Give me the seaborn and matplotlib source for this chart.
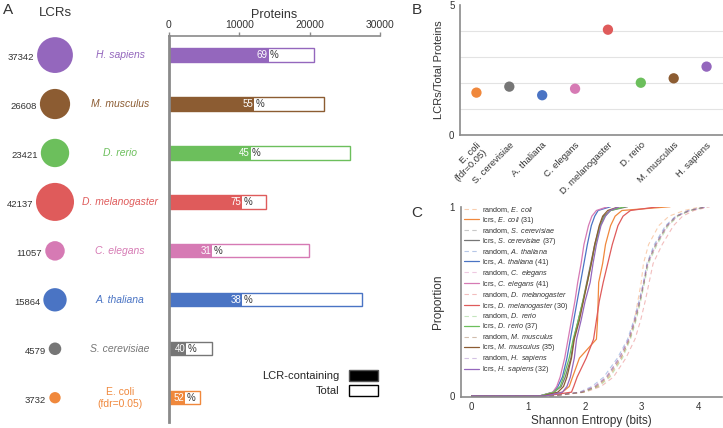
"""
LCR overview figure: LCR counts, LCR-containing proteins, LCR density
and Shannon entropy distributions per species.
"""

import numpy as np
import pandas as pd
import matplotlib
matplotlib.use("Agg")
import matplotlib.pyplot as plt
from matplotlib.patches import Patch
import seaborn as sns

# ---- data (top to bottom in panel A) ----
SPECIES = ["H. sapiens", "M. musculus", "D. rerio", "D. melanogaster",
           "C. elegans", "A. thaliana", "S. cerevisiae", "E. coli"]
COLORS = ["#9467bd", "#8c5c32", "#6cbf5c", "#df5b5b",
          "#d67ab4", "#4a74c4", "#767676", "#f0883c"]
LCR_COUNTS = [37342, 26608, 23421, 42137, 11057, 15864, 4579, 3732]
TOTAL_PROTEINS = [20650, 22000, 25750, 13850, 19870, 27500, 6070, 4400]
LCR_PROTEINS = [14150, 12100, 11600, 10350, 6130, 10420, 2400, 2280]
LCR_PCT = [69, 55, 45, 75, 31, 38, 40, 52]

# ---- panel B (left to right) ----
B_SPECIES = ["E. coli", "S. cerevisiae", "A. thaliana", "C. elegans",
             "D. melanogaster", "D. rerio", "M. musculus", "H. sapiens"]
B_LABELS = ["E. coli\n(fdr=0.05)", "S. cerevisiae", "A. thaliana", "C. elegans",
            "D. melanogaster", "D. rerio", "M. musculus", "H. sapiens"]
B_RATIO = [1.63, 1.86, 1.53, 1.78, 4.05, 2.01, 2.18, 2.63]

# ---- panel C: entropy (bits) at cumulative proportion knots ----
PROPS = [0, 0, 0.02, 0.05, 0.1, 0.2, 0.3, 0.4, 0.5, 0.6, 0.7, 0.8, 0.9, 0.95, 0.98, 1.0]
C_ORDER = ["E. coli", "S. cerevisiae", "A. thaliana", "C. elegans",
           "D. melanogaster", "D. rerio", "M. musculus", "H. sapiens"]
C_N = [31, 37, 41, 41, 30, 37, 35, 32]
LCR_ENT = {
    "E. coli":         [0, 1.25, 1.60, 1.72, 1.78, 1.90, 2.20, 2.22, 2.23, 2.24, 2.31, 2.36, 2.45, 2.53, 2.65, 3.50],
    "S. cerevisiae":   [0, 1.20, 1.45, 1.58, 1.65, 1.75, 1.80, 1.88, 1.96, 2.03, 2.10, 2.17, 2.26, 2.33, 2.45, 2.75],
    "A. thaliana":     [0, 1.20, 1.44, 1.52, 1.60, 1.68, 1.74, 1.80, 1.86, 1.92, 1.98, 2.04, 2.11, 2.17, 2.23, 2.45],
    "C. elegans":      [0, 1.20, 1.43, 1.50, 1.56, 1.64, 1.70, 1.76, 1.82, 1.87, 1.93, 1.98, 2.06, 2.12, 2.20, 2.40],
    "D. melanogaster": [0, 1.30, 1.76, 1.80, 1.86, 2.02, 2.15, 2.20, 2.25, 2.32, 2.40, 2.48, 2.58, 2.67, 2.80, 3.30],
    "D. rerio":        [0, 1.20, 1.45, 1.56, 1.62, 1.72, 1.79, 1.88, 1.96, 2.04, 2.11, 2.18, 2.27, 2.35, 2.45, 2.70],
    "M. musculus":     [0, 1.25, 1.52, 1.62, 1.68, 1.76, 1.81, 1.90, 1.97, 2.04, 2.11, 2.17, 2.25, 2.31, 2.40, 2.60],
    "H. sapiens":      [0, 1.30, 1.60, 1.68, 1.74, 1.81, 1.85, 1.93, 2.00, 2.09, 2.14, 2.20, 2.28, 2.36, 2.44, 2.60],
}
RANDOM_ENT = {
    "E. coli":         [0, 1.40, 1.95, 2.22, 2.42, 2.64, 2.78, 2.87, 2.93, 2.99, 3.03, 3.12, 3.30, 3.48, 3.75, 4.05],
    "S. cerevisiae":   [0, 1.40, 1.93, 2.18, 2.38, 2.60, 2.77, 2.88, 2.96, 3.04, 3.10, 3.24, 3.44, 3.60, 3.82, 4.15],
    "A. thaliana":     [0, 1.40, 1.90, 2.12, 2.33, 2.57, 2.75, 2.86, 2.95, 3.03, 3.09, 3.22, 3.42, 3.60, 3.83, 4.15],
    "C. elegans":      [0, 1.40, 1.92, 2.16, 2.37, 2.60, 2.77, 2.88, 2.97, 3.04, 3.11, 3.26, 3.46, 3.63, 3.86, 4.18],
    "D. melanogaster": [0, 1.45, 2.00, 2.28, 2.50, 2.72, 2.88, 2.98, 3.06, 3.13, 3.20, 3.36, 3.56, 3.72, 3.92, 4.20],
    "D. rerio":        [0, 1.40, 1.98, 2.24, 2.44, 2.66, 2.80, 2.90, 2.98, 3.05, 3.12, 3.27, 3.47, 3.64, 3.86, 4.15],
    "M. musculus":     [0, 1.40, 1.96, 2.20, 2.40, 2.63, 2.79, 2.89, 2.97, 3.04, 3.10, 3.25, 3.45, 3.62, 3.85, 4.12],
    "H. sapiens":      [0, 1.40, 1.94, 2.17, 2.38, 2.61, 2.77, 2.87, 2.96, 3.03, 3.10, 3.24, 3.44, 3.61, 3.84, 4.14],
}

sns.set_style("white")
plt.rcParams["font.family"] = ["Liberation Sans", "DejaVu Sans"]
plt.rcParams["mathtext.fontset"] = "custom"
plt.rcParams["mathtext.rm"] = "Liberation Sans"
plt.rcParams["mathtext.it"] = "Liberation Sans:italic"

SPINE = "#8a8a8a"
TXT = "#333333"
color_of = dict(zip(SPECIES, COLORS))

W, H = 723, 428
fig = plt.figure(figsize=(W / 100, H / 100), dpi=100)


def px_axes(left, top, right, bottom):
    return fig.add_axes([left / W, 1 - bottom / H, (right - left) / W, (bottom - top) / H])


def style_spines(ax, lw=1.2):
    for s in ax.spines.values():
        s.set_color(SPINE)
        s.set_linewidth(lw)
    ax.tick_params(colors=SPINE, labelcolor=TXT, length=3, width=1)


# ================= panel A =================
ylim_a = (7.49, -0.41)
df_a = pd.DataFrame({"species": SPECIES, "total": TOTAL_PROTEINS,
                     "lcr": LCR_PROTEINS, "count": LCR_COUNTS, "pos": np.arange(8)})

ax_bar = px_axes(169, 36, 380, 421.7)
sns.barplot(data=df_a, y="species", x="total", hue="species", palette=color_of,
            fill=False, width=0.27, linewidth=1, legend=False, orient="h", ax=ax_bar)
sns.barplot(data=df_a, y="species", x="lcr", hue="species", palette=color_of,
            width=0.27, linewidth=0, saturation=1, legend=False, orient="h", ax=ax_bar)
for i, (lcr, pct) in enumerate(zip(LCR_PROTEINS, LCR_PCT)):
    ax_bar.annotate(str(pct), xy=(lcr, i), xytext=(-0.5, 0), textcoords="offset points",
                    ha="right", va="center", color="white", fontsize=7)
    ax_bar.annotate("%", xy=(lcr, i), xytext=(1, 0), textcoords="offset points",
                    ha="left", va="center", color=TXT, fontsize=7)
ax_bar.set_xlim(0, 30000)
ax_bar.set_ylim(7.49, -0.39)
ax_bar.set_xticks([0, 10000, 20000, 30000])
ax_bar.xaxis.tick_top()
ax_bar.xaxis.set_label_position("top")
ax_bar.set_xlabel("Proteins", fontsize=9, color=TXT, labelpad=2)
ax_bar.set_ylabel("")
ax_bar.set_yticks(range(8))
ax_bar.set_yticklabels([])
ax_bar.spines["right"].set_visible(False)
ax_bar.spines["bottom"].set_visible(False)
style_spines(ax_bar)
ax_bar.spines["left"].set_linewidth(2)
ax_bar.tick_params(axis="x", labelsize=7.5, pad=1)
ax_bar.legend(handles=[Patch(facecolor="black", edgecolor="#555555"),
                       Patch(facecolor="white", edgecolor="black")],
              labels=["LCR-containing", "Total"], markerfirst=False, frameon=False,
              fontsize=8, handlelength=2.6, handleheight=1.1, labelspacing=0.35,
              loc="center", bbox_to_anchor=(320 / W, 1 - 383 / H),
              bbox_transform=fig.transFigure)

# circles, counts and species names
ax_circ = px_axes(0, 35, 165, 421.7)
ax_circ.set_xlim(0, 165)
ax_circ.set_ylim(*ylim_a)
ax_circ.axis("off")
k = 750 / max(LCR_COUNTS)
sns.scatterplot(data=df_a, x=[55] * 8, y="pos", hue="species", palette=color_of,
                size="count", sizes=(min(LCR_COUNTS) * k, max(LCR_COUNTS) * k),
                linewidth=0, legend=False, ax=ax_circ)
for i, (name, cnt) in enumerate(zip(SPECIES, LCR_COUNTS)):
    r_px = np.sqrt(cnt * k) * 100 / 72 / 2
    ax_circ.text(55 - r_px - 3, i + 0.05, str(cnt), ha="right", va="center",
                 fontsize=6.8, color=TXT)
    label = "E. coli\n(fdr=0.05)" if name == "E. coli" else name
    ax_circ.text(120, i, label, ha="center", va="center", fontsize=7.5,
                 style="italic" if name != "E. coli" else "normal",
                 color=color_of[name], linespacing=1.2)
fig.text(55 / W, 1 - 13 / H, "LCRs", ha="center", va="center", fontsize=9.5, color=TXT)

# ================= panel B =================
ax_b = px_axes(460, 5, 723, 135)
df_b = pd.DataFrame({"species": B_SPECIES, "ratio": B_RATIO, "x": np.arange(8)})
for yv in [1, 2, 3, 4]:
    ax_b.axhline(yv, color="#e3e3e3", lw=0.8, zorder=0)
sns.scatterplot(data=df_b, x="x", y="ratio", hue="species", palette=color_of,
                s=55, linewidth=0, legend=False, ax=ax_b, zorder=3)
ax_b.set_xlim(-0.5, 7.5)
ax_b.set_ylim(0, 5)
ax_b.set_yticks(range(6))
ax_b.set_yticklabels(["0", "", "", "", "", "5"])
ax_b.set_xticks(range(8))
ax_b.set_xticklabels(B_LABELS, rotation=45, ha="right", rotation_mode="anchor",
                     fontsize=6.8, linespacing=1.0)
ax_b.set_xlabel("")
ax_b.set_ylabel("LCRs/Total Proteins", fontsize=8, color=TXT, labelpad=4)
ax_b.spines["top"].set_visible(False)
ax_b.spines["right"].set_visible(False)
style_spines(ax_b)
ax_b.tick_params(axis="y", labelsize=7, pad=1)
ax_b.tick_params(axis="x", pad=1)

# ================= panel C =================
ax_c = px_axes(460.7, 206.7, 721.7, 396.7)
for name, n in zip(C_ORDER, C_N):
    it = name.replace(" ", r"\ ")
    sns.lineplot(x=RANDOM_ENT[name], y=PROPS, sort=False, estimator=None,
                 color=color_of[name], alpha=0.4, lw=0.8,
                 label=rf"random, $\it{{{it}}}$", ax=ax_c)
    ax_c.lines[-1].set_linestyle((0, (4, 3)))
    sns.lineplot(x=LCR_ENT[name], y=PROPS, sort=False, estimator=None,
                 color=color_of[name], lw=0.9,
                 label=rf"lcrs, $\it{{{it}\ ({n})}}$", ax=ax_c)
ax_c.set_xlim(-0.194, 4.41)
ax_c.set_ylim(-0.004, 1.0)
ax_c.set_xticks([0, 1, 2, 3, 4])
ax_c.set_yticks([0, 0.2, 0.4, 0.6, 0.8, 1.0])
ax_c.set_yticklabels(["0", "", "", "", "", "1"])
ax_c.set_xlabel("Shannon Entropy (bits)", fontsize=8.5, color=TXT, labelpad=2)
ax_c.set_ylabel("Proportion", fontsize=8.5, color=TXT, labelpad=4)
ax_c.spines["top"].set_visible(False)
ax_c.spines["right"].set_visible(False)
style_spines(ax_c)
ax_c.tick_params(labelsize=7, pad=1)
leg = ax_c.legend(loc="upper left", bbox_to_anchor=(0.0, 1.025), frameon=False,
                  fontsize=5.2, handlelength=2.2, handletextpad=0.4,
                  labelspacing=0.0, borderaxespad=0.2, borderpad=0.2)
for t in leg.get_texts():
    t.set_color(TXT)

# panel letters
for letter, (x, y) in {"A": (8, 10), "B": (417, 10), "C": (417, 213)}.items():
    fig.text(x / W, 1 - y / H, letter, ha="center", va="center", fontsize=11, color=TXT)

fig.savefig("out.png", dpi=100)
